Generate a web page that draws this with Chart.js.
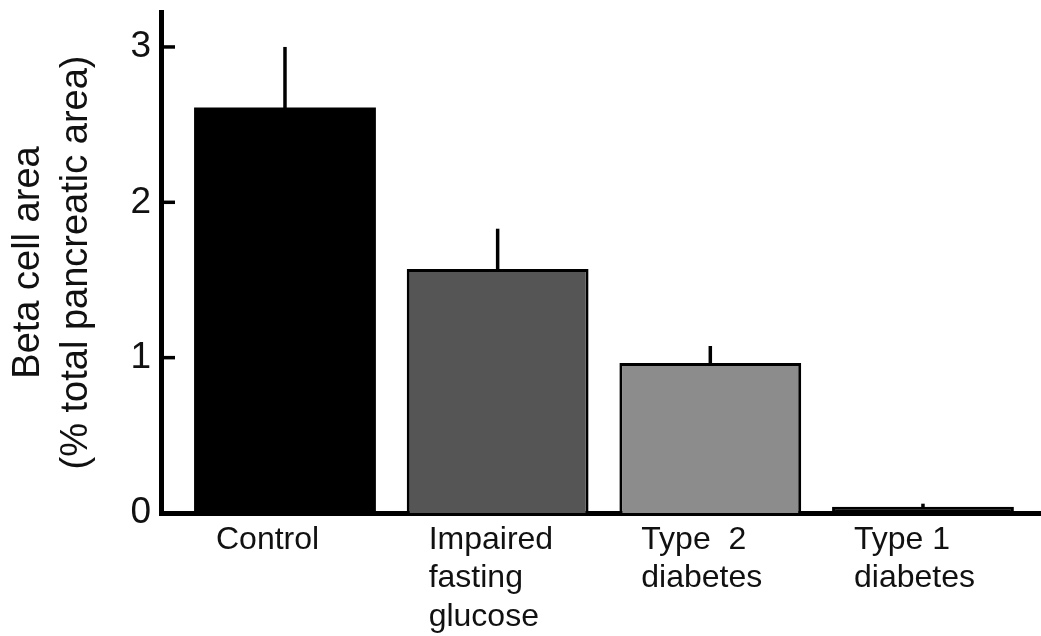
<!DOCTYPE html>
<html>
<head>
<meta charset="utf-8">
<script src="https://cdn.jsdelivr.net/npm/chart.js@4.4.1/dist/chart.umd.min.js"></script>
<style>
  html, body { margin: 0; padding: 0; background: #fff; }
  canvas { display: block; }
</style>
</head>
<body>
<canvas id="grafico" width="1041" height="636"></canvas>
<script>
// datos
var categorias = [['Control'], ['Impaired', 'fasting', 'glucose'], ['Type  2', 'diabetes'], ['Type 1', 'diabetes']];
var valores = [2.61, 1.57, 0.965, 0.04];
var errores = [0.39, 0.26, 0.11, 0.02];
var ticksY = [0, 1, 2, 3];
var colores = ['#000000', '#555555', '#8c8c8c', '#000000'];

var fuente = '"Liberation Sans", Arial, Helvetica, sans-serif';

// barras de error (solo hacia arriba) y marcas hacia dentro del eje Y
var pluginErrores = {
    id: 'errores',
    afterDraw: function(chart) {
        var ctx = chart.ctx;
        var x = chart.scales.x;
        var y = chart.scales.y;
        ctx.save();
        ctx.strokeStyle = '#000';
        ctx.lineCap = 'butt';
        ctx.lineWidth = 3.5;
        valores.forEach(function(v, i) {
            var px = x.getPixelForValue(i);
            ctx.beginPath();
            ctx.moveTo(px, y.getPixelForValue(v) + 1);
            ctx.lineTo(px, y.getPixelForValue(v + errores[i]));
            ctx.stroke();
        });
        ticksY.forEach(function(t) {
            if (t === 0) return;
            var py = y.getPixelForValue(t);
            ctx.beginPath();
            ctx.moveTo(chart.chartArea.left, py);
            ctx.lineTo(chart.chartArea.left + 14, py);
            ctx.stroke();
        });
        ctx.restore();
    }
};

var config = {
    type: 'bar',
    data: {
        datasets: [{
            data: valores.map(function(v, i) { return { x: i, y: v }; }),
            backgroundColor: colores,
            borderColor: '#000',
            borderWidth: [0, 3, 3, 3],
            barPercentage: 0.855,
            categoryPercentage: 1.0
        }]
    },
    options: {
        responsive: false,
        animation: false,
        layout: { padding: { top: 12, right: 0, bottom: 0, left: 0 } },
        plugins: {
            legend: { display: false },
            tooltip: { enabled: false }
        },
        scales: {
            x: {
                type: 'linear',
                offset: false,
                min: -0.583,
                max: 3.555,
                z: 1,
                grid: { display: false, drawTicks: false, offset: false },
                border: { display: true, color: '#000', width: 5 },
                afterBuildTicks: function(scale) {
                    scale.ticks = categorias.map(function(c, i) { return { value: i }; });
                },
                afterFit: function(scale) {
                    scale.height = 123;
                    scale.paddingLeft = 0;
                    scale.paddingRight = 0;
                },
                ticks: {
                    autoSkip: false,
                    maxRotation: 0,
                    minRotation: 0,
                    align: 'start',
                    labelOffset: -69,
                    padding: 8,
                    color: '#111',
                    font: { family: fuente, size: 32, lineHeight: 1.2 },
                    callback: function(v) { return categorias[v]; }
                }
            },
            y: {
                min: 0,
                max: 3.225,
                z: 1,
                grid: { display: false, drawTicks: false },
                border: { display: true, color: '#000', width: 5 },
                afterBuildTicks: function(scale) {
                    scale.ticks = ticksY.map(function(t) { return { value: t }; });
                },
                afterFit: function(scale) {
                    scale.width = 161;
                    scale.paddingTop = 0;
                    scale.paddingBottom = 0;
                },
                ticks: {
                    padding: 10,
                    color: '#111',
                    font: { family: fuente, size: 37 },
                    callback: function(v) { return String(v); }
                },
                title: {
                    display: true,
                    text: ['Beta cell area', '(% total pancreatic area)'],
                    color: '#111',
                    padding: { top: 5, bottom: 10 },
                    font: { family: fuente, size: 38, lineHeight: 1.26 }
                }
            }
        }
    },
    plugins: [pluginErrores]
};

var ctx = document.getElementById('grafico').getContext('2d');
var miGrafico = new Chart(ctx, config);
</script>
</body>
</html>
